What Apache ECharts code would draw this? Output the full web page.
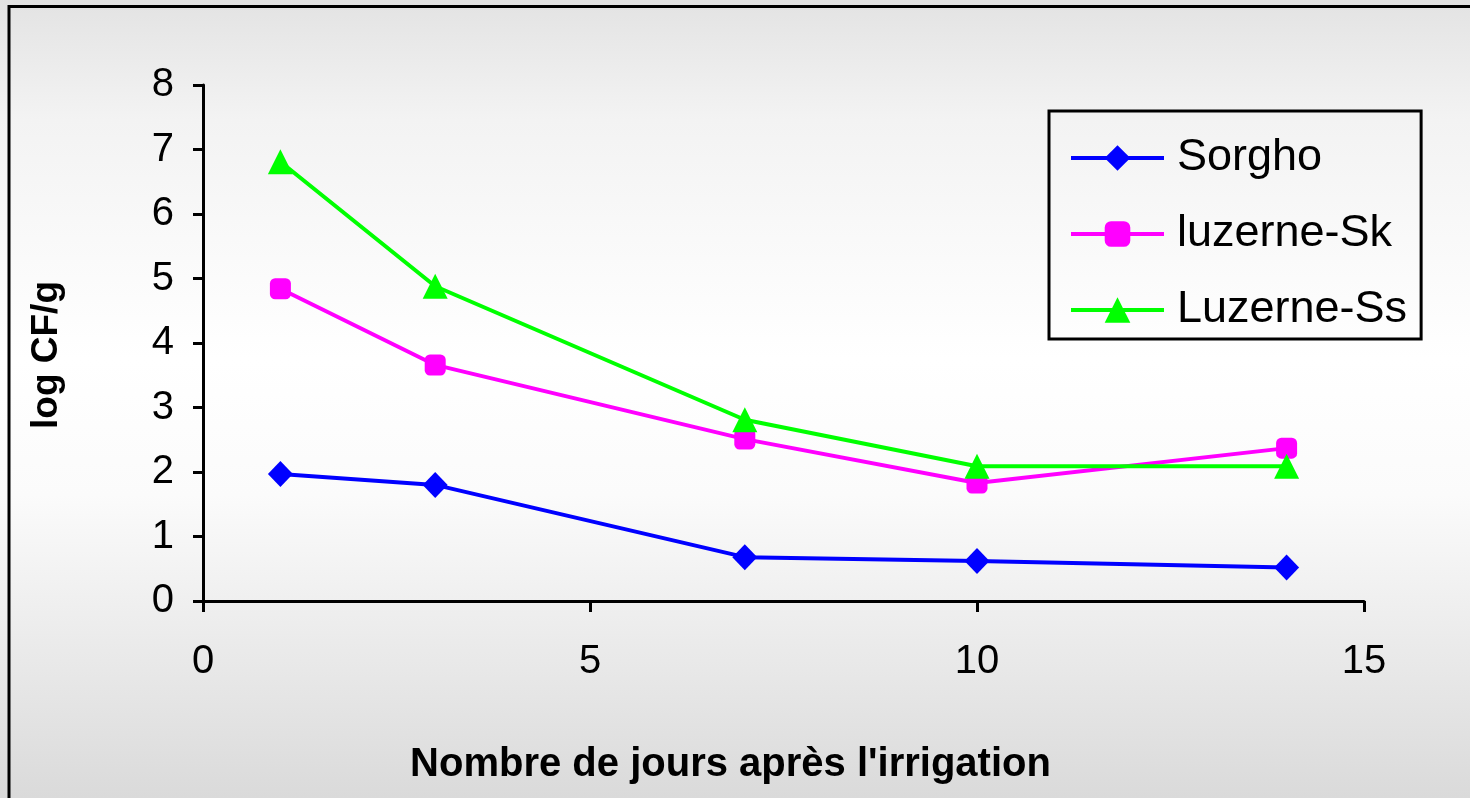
<!DOCTYPE html>
<html>
<head>
<meta charset="utf-8">
<title>log CF/g</title>
<script src="https://cdn.jsdelivr.net/npm/echarts@6/dist/echarts.min.js"></script>
<style>
  html, body { margin: 0; padding: 0; background: #ffffff; }
  #chart { width: 1470px; height: 798px; }
</style>
</head>
<body>
<div id="chart"></div>
<script>
// Days after irrigation
const days = [1, 3, 7, 10, 14];
// log CF/g per crop
const sorgho = [1.97, 1.80, 0.68, 0.62, 0.52];
const luzerneSk = [4.84, 3.66, 2.51, 1.83, 2.37];
const luzerneSs = [6.81, 4.88, 2.81, 2.09, 2.09];
const seriesNames = ['Sorgho', 'luzerne-Sk', 'Luzerne-Ss'];

const FONT = '"Liberation Sans", Arial, sans-serif';

function pairs(xs, ys) {
  return xs.map((x, i) => [x, ys[i]]);
}

const chart = echarts.init(document.getElementById('chart'), null, { renderer: 'canvas' });

chart.setOption({
  animation: false,
  backgroundColor: {
    type: 'linear', x: 0, y: 0, x2: 0, y2: 1,
    colorStops: [
      { offset: 0, color: '#e3e3e3' },
      { offset: 0.15, color: '#f3f3f3' },
      { offset: 0.45, color: '#ffffff' },
      { offset: 0.62, color: '#fbfbfb' },
      { offset: 1, color: '#dadada' }
    ]
  },
  graphic: [{
    type: 'rect',
    shape: { x: 9, y: 6.5, width: 1500, height: 900 },
    style: { fill: 'none', stroke: '#000', lineWidth: 3 },
    silent: true
  }],
  grid: { left: 203, right: 106, top: 85, bottom: 197 },
  legend: {
    orient: 'vertical',
    left: 1049,
    top: 111,
    data: seriesNames,
    itemWidth: 93,
    itemHeight: 32,
    itemGap: 26,
    padding: [22, 14, 4, 20],
    borderColor: '#000',
    borderWidth: 3,
    backgroundColor: 'transparent',
    lineStyle: { width: 4 },
    textStyle: {
      fontFamily: FONT, fontSize: 45, color: '#000',
      lineHeight: 50, padding: [0, 0, 0, 8]
    }
  },
  xAxis: {
    type: 'value',
    min: 0, max: 15, interval: 5,
    name: "Nombre de jours après l'irrigation",
    nameLocation: 'middle',
    nameGap: 144,
    nameTextStyle: {
      fontFamily: FONT, fontSize: 40, fontWeight: 'bold', color: '#000',
      padding: [0, 106, 0, 0]
    },
    axisLine: { lineStyle: { color: '#000', width: 3 } },
    axisTick: { length: 11, lineStyle: { color: '#000', width: 3 } },
    axisLabel: { fontFamily: FONT, fontSize: 40, color: '#000', margin: 41 },
    splitLine: { show: false }
  },
  yAxis: {
    type: 'value',
    min: 0, max: 8, interval: 1,
    name: 'log CF/g',
    nameLocation: 'middle',
    nameGap: 138,
    nameRotate: 90,
    nameTextStyle: {
      fontFamily: FONT, fontSize: 37, fontWeight: 'bold', color: '#000',
      padding: [0, 24, 0, 0]
    },
    axisLine: { show: true, lineStyle: { color: '#000', width: 3 } },
    axisTick: { show: true, length: 10, lineStyle: { color: '#000', width: 3 } },
    axisLabel: { fontFamily: FONT, fontSize: 40, color: '#000', margin: 29 },
    splitLine: { show: false }
  },
  series: [
    {
      name: seriesNames[0], type: 'line', data: pairs(days, sorgho),
      symbol: 'diamond', symbolSize: [25, 26],
      lineStyle: { color: '#0000ff', width: 4 },
      itemStyle: { color: '#0000ff' }
    },
    {
      name: seriesNames[1], type: 'line', data: pairs(days, luzerneSk),
      symbol: 'roundRect', symbolSize: 21,
      lineStyle: { color: '#ff00ff', width: 4 },
      itemStyle: { color: '#ff00ff' }
    },
    {
      name: seriesNames[2], type: 'line', data: pairs(days, luzerneSs),
      symbol: 'triangle', symbolSize: [25, 25],
      lineStyle: { color: '#00ff00', width: 4 },
      itemStyle: { color: '#00ff00' }
    }
  ]
});
</script>
</body>
</html>
